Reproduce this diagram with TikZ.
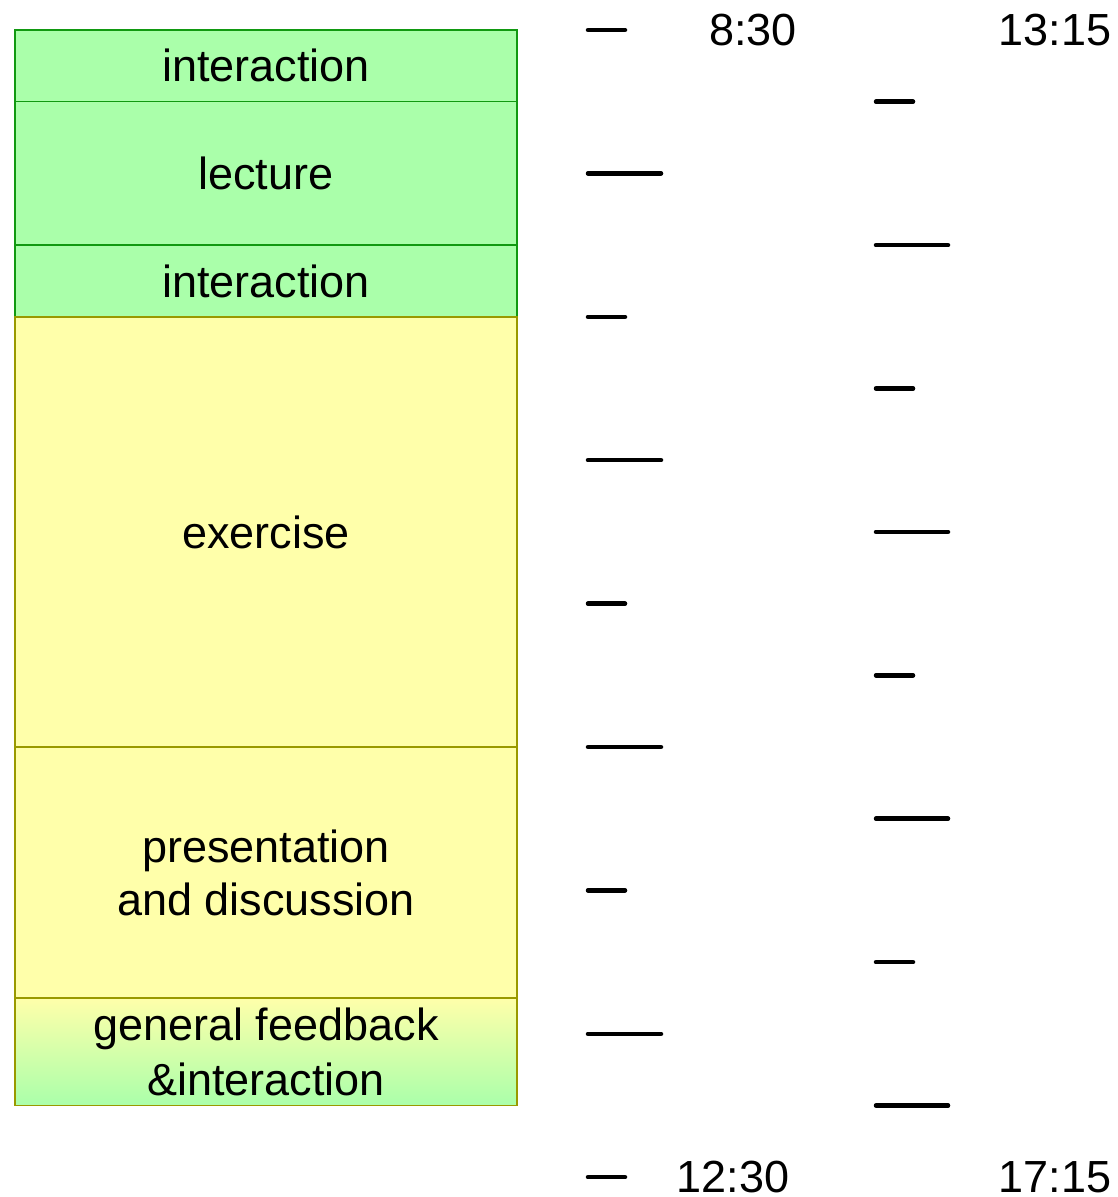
\documentclass[tikz,border=0pt]{standalone}
\usepackage{fontspec}
\setmainfont{Liberation Sans}
\definecolor{gfill}{HTML}{AAFFAA}
\definecolor{gline}{HTML}{119911}
\definecolor{yfill}{HTML}{FFFFAA}
\definecolor{yline}{HTML}{999900}
\begin{document}
\begin{tikzpicture}[x=1pt,y=-1pt,
  every node/.style={font=\fontsize{45}{54}\selectfont},
  block/.style={rectangle, inner sep=0pt, minimum width=502pt, line width=1.5pt, align=center},
  greenblock/.style={block, draw=gline, fill=gfill},
  yellowblock/.style={block, draw=yline, fill=yfill},
  tick/.style={line width=4.5pt, line cap=round},
  timelabel/.style={inner sep=0pt}]
\useasboundingbox (0,0) rectangle (1117,1197);
% blocks
\node[greenblock, minimum height=71.7pt] (i1) at (266,65.85) {interaction};
\node[greenblock, minimum height=143.4pt] (lec) at (266,173.4) {lecture};
\node[greenblock, minimum height=71.7pt] (i2) at (266,281) {interaction};
\node[yellowblock, minimum height=430.2pt] (ex) at (266,532) {exercise};
\node[yellowblock, minimum height=251pt, font=\fontsize{45}{53}\selectfont] (pres) at (266,872.5) {presentation\\and discussion};
\node[block, draw=yline, top color=yfill, bottom color=gfill, minimum height=107.5pt, font=\fontsize{45}{55}\selectfont] (fb) at (266,1051.5) {general feedback\\\&interaction};
% left time ticks
\foreach \k in {0,2,4,6,8} \draw[tick] (588,{30+143.4*\k}) -- (625,{30+143.4*\k});
\foreach \k in {1,3,5,7} \draw[tick] (588,{30+143.4*\k}) -- (661,{30+143.4*\k});
% right time ticks
\foreach \k in {0,2,4,6} \draw[tick] (876,{101.7+143.4*\k}) -- (913,{101.7+143.4*\k});
\foreach \k in {1,3,5,7} \draw[tick] (876,{101.7+143.4*\k}) -- (948,{101.7+143.4*\k});
% labels
\node[timelabel] (t830) at (753,30) {8:30};
\node[timelabel] (t1315) at (1055,30) {13:15};
\node[timelabel] (t1230) at (733,1177) {12:30};
\node[timelabel] (t1715) at (1055,1177) {17:15};
\end{tikzpicture}
\end{document}
